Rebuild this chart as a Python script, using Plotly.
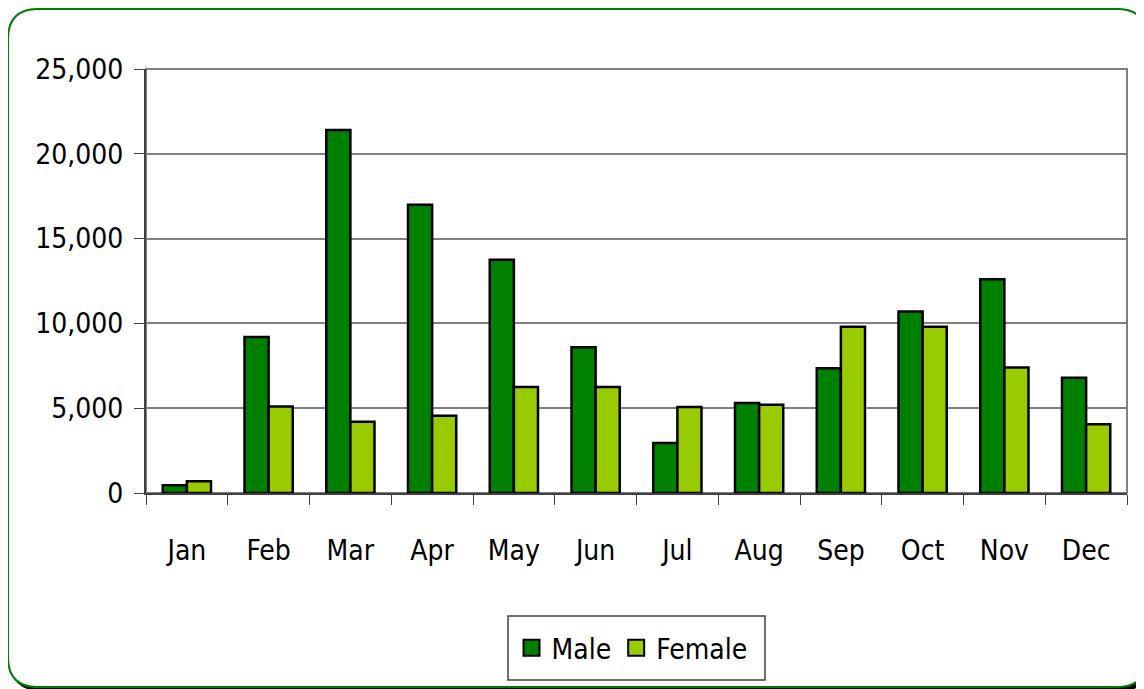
import plotly.graph_objects as go

months = ["Jan", "Feb", "Mar", "Apr", "May", "Jun", "Jul", "Aug", "Sep", "Oct", "Nov", "Dec"]
male = [450, 9200, 21400, 17000, 13750, 8600, 2950, 5300, 7350, 10700, 12600, 6800]
female = [700, 5100, 4200, 4550, 6250, 6250, 5070, 5200, 9800, 9800, 7400, 4050]
y_ticks = [0, 5000, 10000, 15000, 20000, 25000]

W, H = 1144, 689
OFF = 8  # page body margin
# plot area in page pixels
L, R, T, B = 146, 1127, 69, 493
FONT = "DejaVu Sans Condensed, DejaVu Sans, sans-serif"


def px(x):
    return (x - L) / (R - L)


def py(y):
    return (B - y) / (B - T)


def rounded_rect(x0, y0, x1, y1, r):
    pts = [
        f"M {px(x0 + r)} {py(y0)}",
        f"L {px(x1 - r)} {py(y0)}",
        f"Q {px(x1)} {py(y0)} {px(x1)} {py(y0 + r)}",
        f"L {px(x1)} {py(y1 - r)}",
        f"Q {px(x1)} {py(y1)} {px(x1 - r)} {py(y1)}",
        f"L {px(x0 + r)} {py(y1)}",
        f"Q {px(x0)} {py(y1)} {px(x0)} {py(y1 - r)}",
        f"L {px(x0)} {py(y0 + r)}",
        f"Q {px(x0)} {py(y0)} {px(x0 + r)} {py(y0)}",
        "Z",
    ]
    return " ".join(pts)


fig = go.Figure()
fig.add_trace(go.Bar(x=months, y=male, name="Male", showlegend=False,
                     marker=dict(color="#008000", line=dict(color="black", width=2.5))))
fig.add_trace(go.Bar(x=months, y=female, name="Female", showlegend=False,
                     marker=dict(color="#99CC00", line=dict(color="black", width=2.5))))
# legend entries with larger square swatches
for name, color in [("Male", "#008000"), ("Female", "#99CC00")]:
    fig.add_trace(go.Scatter(x=[None], y=[None], mode="markers", name=name,
                             marker=dict(symbol="square", size=16, color=color,
                                         line=dict(color="black", width=2))))

shapes = [
    dict(type="path", xref="paper", yref="paper", layer="below",
         path=rounded_rect(11, 12, 1150, 690, 30),
         fillcolor="black", line=dict(color="black", width=2)),
    dict(type="path", xref="paper", yref="paper", layer="below",
         path=rounded_rect(8, 9, 1147, 687, 30),
         fillcolor="white", line=dict(color="#008000", width=2)),
    dict(type="rect", xref="paper", yref="paper", x0=0, y0=0, x1=1, y1=1,
         layer="below", line=dict(color="#808080", width=2)),
    dict(type="rect", xref="paper", yref="paper", layer="above",
         x0=px(508), x1=px(765), y0=py(680), y1=py(616),
         line=dict(color="#404040", width=1.5)),
]

fig.update_layout(
    width=W, height=H,
    margin=dict(l=L - OFF, r=W - (R - OFF), t=T - OFF, b=H - (B - OFF)),
    paper_bgcolor="white", plot_bgcolor="white",
    barmode="group", bargap=0.41, bargroupgap=0,
    font=dict(family=FONT, size=28, color="black"),
    shapes=shapes,
    showlegend=True,
    legend=dict(orientation="h", x=px(632), xanchor="center", y=py(648), yanchor="middle",
                borderwidth=0, bgcolor="rgba(0,0,0,0)",
                font=dict(size=28), itemwidth=30, tracegroupgap=0),
    xaxis=dict(showline=True, linecolor="#404040", linewidth=2, ticks="outside",
               tickson="boundaries", ticklen=10, tickcolor="#404040", tickwidth=1,
               ticklabelstandoff=31, showgrid=False),
    yaxis=dict(range=[0, 25000], tickvals=y_ticks, tickformat=",d",
               showline=True, linecolor="#404040", linewidth=2, ticks="outside",
               ticklen=10, tickcolor="#404040", ticklabelstandoff=5,
               showgrid=True, gridcolor="#808080", gridwidth=2, zeroline=False),
)

fig.write_html("out.html")
